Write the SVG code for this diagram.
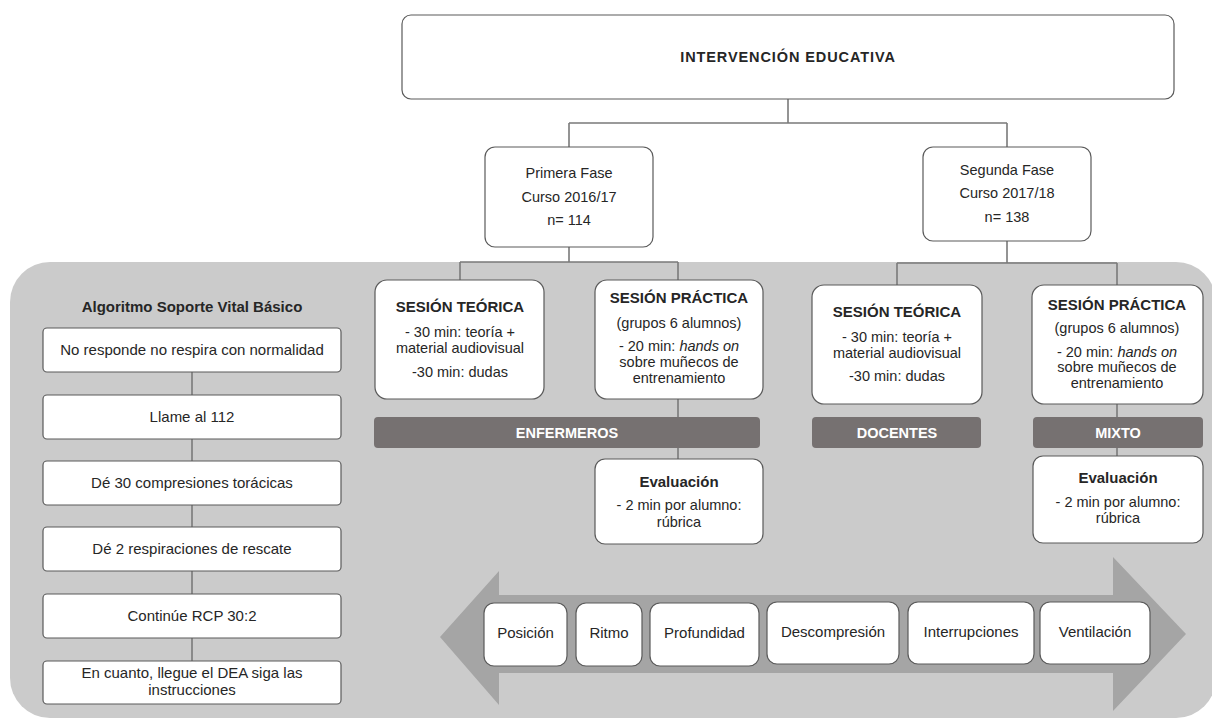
<svg xmlns="http://www.w3.org/2000/svg" width="1212" height="720" viewBox="0 0 1212 720">
<style>
text{font-family:"Liberation Sans",Arial,sans-serif;fill:#262626;text-anchor:middle;font-size:14.5px}
.b{font-weight:bold;font-size:15px}
.w{fill:#ffffff;font-weight:bold;font-size:14.5px}
.l{font-size:15px}
.box{fill:#ffffff;stroke:#5a5a5a;stroke-width:1.2}
.bar{fill:#767171}
.con{stroke:#7a7a7a;stroke-width:1.6;fill:none}
</style>
<rect id="panel" x="10" y="262" width="1206" height="456" rx="40" fill="#cbcbcb"/>
<g id="connectors">
<path class="con" d="M788 99V123M569 123H1007M569 123V147M1007 123V147"/>
<path class="con" d="M569 247V262M460 262H678M460 262V280M678 262V280"/>
<path class="con" d="M1007 241V263M897 263H1117M897 263V285M1117 263V285"/>
<path class="con" d="M678 399V417M678 448V459"/>
<path class="con" d="M1117 404V417M1117 448V456"/>
<path class="con" d="M192 372V395M192 439V461M192 505V527M192 571V594M192 638V661"/>
</g>
<g id="top"><rect class="box" x="402" y="15" width="772" height="84" rx="9"/><text x="788" y="62" font-weight="bold" font-size="14" letter-spacing="0.9">INTERVENCIÓN EDUCATIVA</text></g>
<g id="fase1"><rect class="box" x="485" y="147" width="168" height="100" rx="10"/><text x="569" y="178">Primera Fase</text><text x="569" y="202">Curso 2016/17</text><text x="569" y="225">n= 114</text></g>
<g id="fase2"><rect class="box" x="923" y="147" width="168" height="94" rx="10"/><text x="1007" y="175">Segunda Fase</text><text x="1007" y="198">Curso 2017/18</text><text x="1007" y="222">n= 138</text></g>
<g id="teo1"><rect class="box" x="375" y="280" width="169" height="119" rx="12"/><text class="b" x="460" y="312">SESIÓN TEÓRICA</text><text x="460" y="337">- 30 min: teoría +</text><text x="460" y="353">material audiovisual</text><text x="460" y="377">-30 min: dudas</text></g>
<g id="pra1"><rect class="box" x="595" y="280" width="168" height="119" rx="12"/><text class="b" x="679" y="303">SESIÓN PRÁCTICA</text><text x="679" y="328">(grupos 6 alumnos)</text><text x="679" y="351">- 20 min: <tspan font-style="italic">hands on</tspan></text><text x="679" y="367">sobre muñecos de</text><text x="679" y="383">entrenamiento</text></g>
<g id="teo2"><rect class="box" x="812" y="285" width="170" height="119" rx="12"/><text class="b" x="897" y="317">SESIÓN TEÓRICA</text><text x="897" y="342">- 30 min: teoría +</text><text x="897" y="358">material audiovisual</text><text x="897" y="381">-30 min: dudas</text></g>
<g id="pra2"><rect class="box" x="1032" y="285" width="171" height="119" rx="12"/><text class="b" x="1117" y="310">SESIÓN PRÁCTICA</text><text x="1117" y="333">(grupos 6 alumnos)</text><text x="1117" y="357">- 20 min: <tspan font-style="italic">hands on</tspan></text><text x="1117" y="372">sobre muñecos de</text><text x="1117" y="388">entrenamiento</text></g>
<g id="enfermeros"><rect class="bar" x="374" y="417" width="386" height="31" rx="4"/><text class="w" x="567" y="438">ENFERMEROS</text></g>
<g id="docentes"><rect class="bar" x="812" y="417" width="169" height="31" rx="4"/><text class="w" x="897" y="438">DOCENTES</text></g>
<g id="mixto"><rect class="bar" x="1033" y="417" width="170" height="31" rx="4"/><text class="w" x="1118" y="438">MIXTO</text></g>
<g id="eval1"><rect class="box" x="595" y="459" width="168" height="85" rx="10"/><text class="b" x="679" y="487">Evaluación</text><text x="679" y="510">- 2 min por alumno:</text><text x="679" y="527">rúbrica</text></g>
<g id="eval2"><rect class="box" x="1033" y="456" width="170" height="87" rx="10"/><text class="b" x="1118" y="483">Evaluación</text><text x="1118" y="507">- 2 min por alumno:</text><text x="1118" y="523">rúbrica</text></g>
<g id="algoritmo">
<text class="b" x="192" y="312">Algoritmo Soporte Vital Básico</text>
<g id="a1"><rect class="box" x="43" y="328" width="298" height="44" rx="4"/><text class="l" x="192" y="355">No responde no respira con normalidad</text></g>
<g id="a2"><rect class="box" x="43" y="395" width="298" height="44" rx="4"/><text class="l" x="192" y="422">Llame al 112</text></g>
<g id="a3"><rect class="box" x="43" y="461" width="298" height="44" rx="4"/><text class="l" x="192" y="488">Dé 30 compresiones torácicas</text></g>
<g id="a4"><rect class="box" x="43" y="527" width="298" height="44" rx="4"/><text class="l" x="192" y="554">Dé 2 respiraciones de rescate</text></g>
<g id="a5"><rect class="box" x="43" y="594" width="298" height="44" rx="4"/><text class="l" x="192" y="621">Continúe RCP 30:2</text></g>
<g id="a6"><rect class="box" x="43" y="661" width="298" height="43" rx="4"/><text class="l" x="192" y="678">En cuanto, llegue el DEA siga las</text><text class="l" x="192" y="695">instrucciones</text></g>
</g>
<polygon id="arrow" points="440,637 499,571 499,595 1113,595 1113,557 1186,634 1113,711 1113,673 499,673 499,705" fill="#a5a5a5"/>
<g id="criterios">
<g id="c1"><rect class="box" x="484" y="603" width="83" height="63" rx="10"/><text class="l" x="525.5" y="638">Posición</text></g>
<g id="c2"><rect class="box" x="576" y="603" width="66" height="63" rx="10"/><text class="l" x="609" y="638">Ritmo</text></g>
<g id="c3"><rect class="box" x="650" y="603" width="109" height="63" rx="10"/><text class="l" x="704.5" y="638">Profundidad</text></g>
<g id="c4"><rect class="box" x="767" y="602" width="132" height="62" rx="10"/><text class="l" x="833" y="637">Descompresión</text></g>
<g id="c5"><rect class="box" x="908" y="602" width="126" height="62" rx="10"/><text class="l" x="971" y="637">Interrupciones</text></g>
<g id="c6"><rect class="box" x="1040" y="602" width="110" height="62" rx="10"/><text class="l" x="1095" y="637">Ventilación</text></g>
</g>
</svg>
